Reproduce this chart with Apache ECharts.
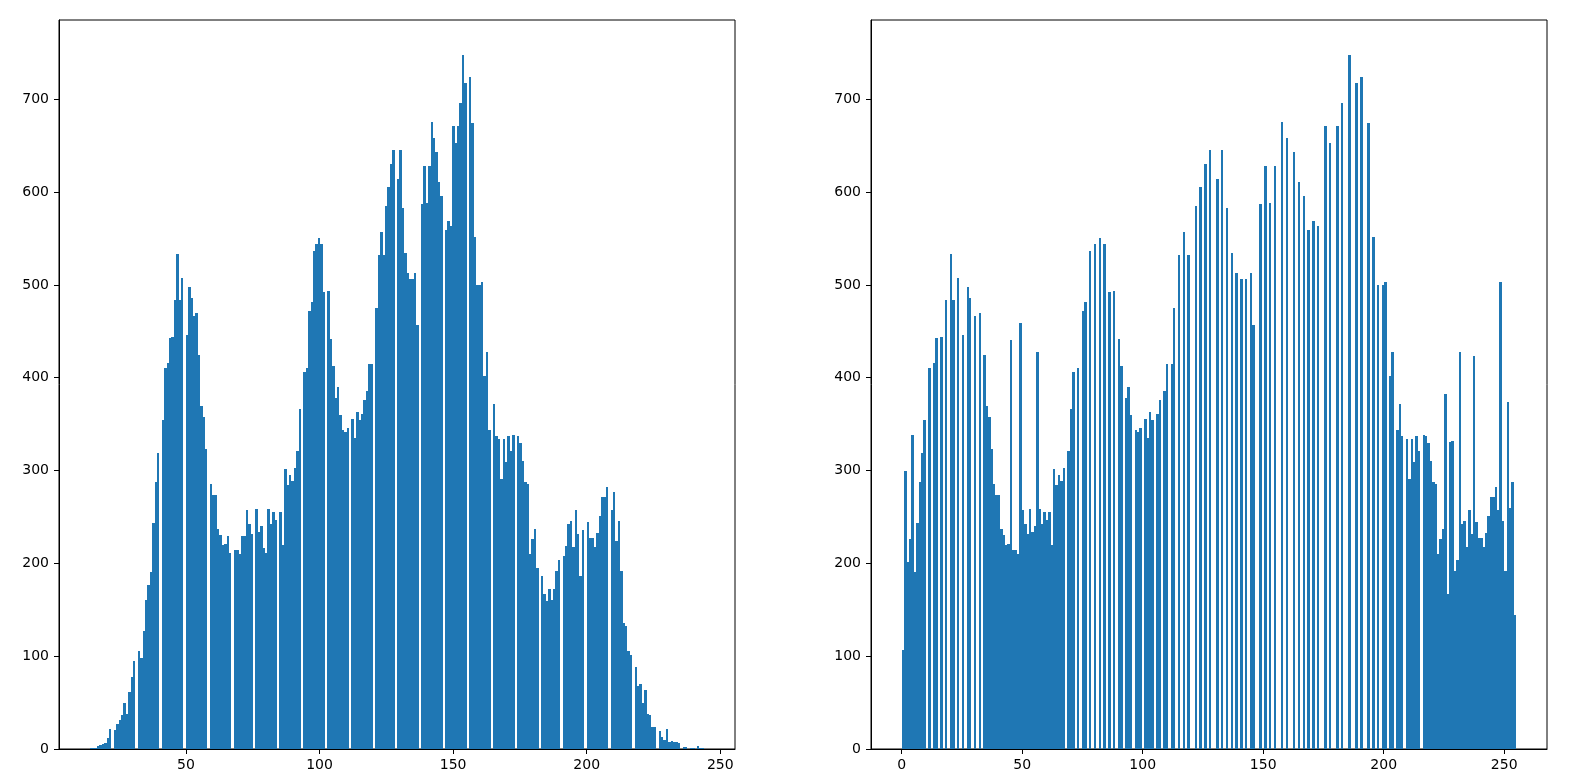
<!DOCTYPE html>
<html><head><meta charset="utf-8">
<script src="https://cdn.jsdelivr.net/npm/echarts@6/dist/echarts.min.js"></script>
<style>html,body{margin:0;padding:0;background:#fff;}#c{width:1570px;height:781px;}</style>
</head><body><div id="c"></div>
<script>
// Left: original image histogram, counts per grey level starting at leftMinLevel
const leftMinLevel = 14;
const leftCounts = [
  1,1,1,3,4,5,7,12,22,
  20,27,31,37,50,38,61,78,95,
  106,98,127,161,177,191,243,288,319,
  354,410,416,443,444,484,533,484,507,
  446,498,486,466,470,424,369,358,323,
  286,274,274,237,231,220,221,229,211,
  214,214,210,230,229,258,242,232,
  259,234,240,217,211,259,242,255,247,
  255,220,302,284,295,289,303,321,366,
  406,410,472,482,536,544,551,544,492,
  493,442,413,378,390,360,344,342,346,
  356,335,363,354,361,376,386,415,415,
  475,532,557,532,585,606,630,645,
  614,645,583,534,513,506,506,513,457,
  587,628,588,628,676,658,643,611,596,
  559,569,564,671,653,671,696,748,717,
  724,674,552,500,500,503,402,428,344,
  372,337,334,291,334,309,337,321,338,
  337,330,310,288,285,210,226,237,195,
  186,167,159,172,160,172,192,204,
  208,219,242,246,218,258,232,186,236,
  245,227,227,218,233,251,271,272,282,
  257,277,224,246,192,136,132,106,101,
  88,68,70,50,64,38,37,24,24,
  19,13,10,22,8,9,8,8,6,
  2,2,0,1,1,0,3,1,1
];
// Right: equalized image histogram (level, count)
const rightLevels = [0,1,2,3,4,5,6,7,8,9,11,13,14,16,18,20,21,23,25,27,28,30,32,34,35,36,37,38,39,40,
  41,42,43,44,45,46,47,48,49,50,51,52,53,54,55,56,57,58,59,60,61,62,63,64,65,66,67,69,70,71,73,75,76,78,80,
  82,84,86,88,90,91,93,94,95,97,98,99,101,102,103,104,106,107,109,110,112,113,115,117,119,122,124,126,128,
  131,133,135,137,139,141,143,145,146,149,151,153,155,158,160,163,165,167,169,171,173,176,178,181,183,186,
  189,191,194,196,198,200,201,203,204,206,207,208,210,211,212,213,214,215,217,218,219,220,221,222,223,224,
  225,226,227,228,229,230,231,232,233,234,235,236,237,238,239,240,241,242,243,244,245,246,247,248,249,250,
  251,252,253,254,255];
const rightCounts = [107,300,202,226,338,191,243,288,319,354,410,416,443,444,484,533,484,507,446,498,486,466,470,424,369,358,323,286,274,274,
  237,231,220,221,441,214,214,210,459,258,242,232,259,234,240,428,259,242,255,247,255,220,302,284,295,289,303,321,366,406,410,472,482,536,544,
  551,544,492,493,442,413,378,390,360,344,342,346,356,335,363,354,361,376,386,415,415,475,532,557,532,585,606,630,645,
  614,645,583,534,513,506,506,513,457,587,628,588,628,676,658,643,611,596,559,569,564,671,653,671,696,748,
  717,724,674,552,500,500,503,402,428,344,372,337,334,291,334,309,337,321,338,337,330,310,288,285,210,226,
  237,382,167,331,332,192,204,428,242,246,218,258,232,423,245,227,227,218,233,251,271,272,282,257,503,246,
  192,374,260,288,144];

const leftXTicks = [50,100,150,200,250];
const rightXTicks = [0,50,100,150,200,250];
const yTicks = [0,100,200,300,400,500,600,700];
const NBINS = 256;

const leftLevels = leftCounts.map((_, i) => leftMinLevel + i);

function histBins(levels, counts) {
  const lo = Math.min.apply(null, levels), hi = Math.max.apply(null, levels);
  const w = (hi - lo) / NBINS;
  const acc = new Array(NBINS).fill(0);
  for (let i = 0; i < levels.length; i++) {
    let b = Math.floor((levels[i] - lo) * NBINS / (hi - lo));
    if (b >= NBINS) b = NBINS - 1;
    acc[b] += counts[i];
  }
  const out = [];
  for (let b = 0; b < NBINS; b++) if (acc[b] > 0) out.push([lo + b * w, lo + (b + 1) * w, acc[b]]);
  return { data: out, lo: lo, hi: hi };
}

const L = histBins(leftLevels, leftCounts);
const R = histBins(rightLevels, rightCounts);
const yMaxAll = Math.max(Math.max.apply(null, leftCounts), Math.max.apply(null, rightCounts)) * 1.05;

function renderBar(params, api) {
  const p0 = api.coord([api.value(0), api.value(2)]);
  const p1 = api.coord([api.value(1), 0]);
  const x0 = Math.round(p0[0]), x1 = Math.round(p1[0]);
  const y0 = Math.round(p0[1]), y1 = Math.round(p1[1]);
  return { type: 'rect', shape: { x: x0, y: y0, width: x1 - x0, height: y1 - y0 },
    style: { fill: '#1f77b4' } };
}

const font = { color: '#000', fontSize: 14, fontFamily: 'DejaVu Sans' };
function xAx(idx, h, ticks) {
  const m = 0.05 * (h.hi - h.lo);
  return { type: 'value', gridIndex: idx, min: h.lo - m, max: h.hi + m,
    axisLine: { show: true, onZero: false, lineStyle: { color: '#000', width: 1 } },
    axisTick: { show: true, length: 5, lineStyle: { color: '#000', width: 1 }, customValues: ticks },
    axisLabel: Object.assign({ customValues: ticks, margin: 9 }, font),
    splitLine: { show: false } };
}
function yAx(idx) {
  return { type: 'value', gridIndex: idx, min: 0, max: yMaxAll,
    axisLine: { show: true, onZero: false, lineStyle: { color: '#000', width: 1 } },
    axisTick: { show: true, length: 5, lineStyle: { color: '#000', width: 1 }, customValues: yTicks },
    axisLabel: Object.assign({ customValues: yTicks, margin: 10 }, font),
    splitLine: { show: false } };
}

const chart = echarts.init(document.getElementById('c'), null, { renderer: 'canvas' });
chart.setOption({
  animation: false,
  backgroundColor: '#fff',
  grid: [
    { left: 59, top: 20, width: 676, height: 729, show: true, borderColor: '#000', borderWidth: 1, backgroundColor: 'transparent' },
    { left: 871, top: 20, width: 676, height: 729, show: true, borderColor: '#000', borderWidth: 1, backgroundColor: 'transparent' }
  ],
  xAxis: [xAx(0, L, leftXTicks), xAx(1, R, rightXTicks)],
  yAxis: [yAx(0), yAx(1)],
  series: [
    { type: 'custom', xAxisIndex: 0, yAxisIndex: 0, renderItem: renderBar, encode: { x: [0, 1], y: 2 }, data: L.data, clip: true },
    { type: 'custom', xAxisIndex: 1, yAxisIndex: 1, renderItem: renderBar, encode: { x: [0, 1], y: 2 }, data: R.data, clip: true }
  ]
});
</script>
</body></html>
